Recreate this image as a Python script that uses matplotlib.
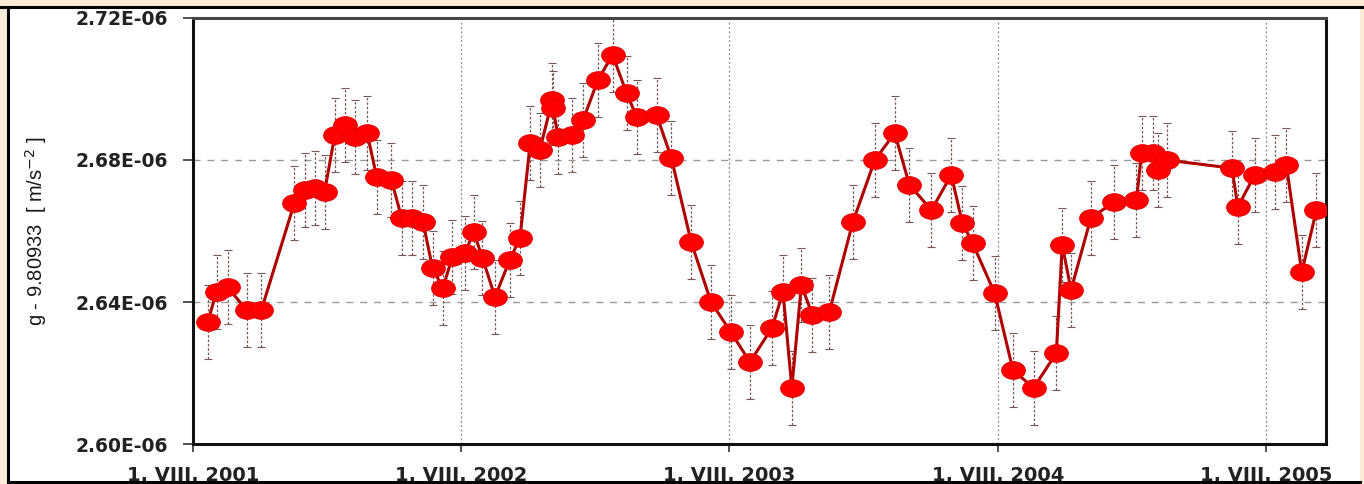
import matplotlib
matplotlib.use("Agg")
import matplotlib.pyplot as plt
import matplotlib.dates as mdates
import matplotlib.transforms as mtransforms
from matplotlib.path import Path
from matplotlib.ticker import FuncFormatter, FixedLocator
from matplotlib.lines import Line2D
from matplotlib.patches import Rectangle
import numpy as np
import datetime as dt

# ---- data ----
dates = [
    "2001-08-21", "2001-09-02", "2001-09-17", "2001-10-13", "2001-11-02",
    "2001-12-17", "2001-12-31", "2002-01-14", "2002-01-27", "2002-02-10",
    "2002-02-24", "2002-03-09", "2002-03-26", "2002-04-08", "2002-04-28",
    "2002-05-12", "2002-05-26", "2002-06-10", "2002-06-23", "2002-07-07",
    "2002-07-20", "2002-08-06", "2002-08-18", "2002-08-30", "2002-09-16",
    "2002-10-06", "2002-10-20", "2002-11-03", "2002-11-16", "2002-12-03",
    "2002-12-04", "2002-12-11", "2002-12-30", "2003-01-14", "2003-02-03",
    "2003-02-23", "2003-03-14", "2003-03-28", "2003-04-24", "2003-05-14",
    "2003-06-10", "2003-07-07", "2003-08-03", "2003-08-29", "2003-09-28",
    "2003-10-13", "2003-10-25", "2003-11-07", "2003-11-22", "2003-12-15",
    "2004-01-16", "2004-02-15", "2004-03-13", "2004-04-02", "2004-05-02",
    "2004-05-29", "2004-06-13", "2004-06-27", "2004-07-27", "2004-08-21",
    "2004-09-18", "2004-10-19", "2004-10-27", "2004-11-08", "2004-12-05",
    "2005-01-06", "2005-02-05", "2005-02-12", "2005-02-27", "2005-03-06",
    "2005-03-18", "2005-06-15", "2005-06-23", "2005-07-16", "2005-08-12",
    "2005-08-28", "2005-09-18", "2005-10-08",
]
g_values = [  # in units of 1e-6 m/s^2
    2.6344, 2.6428, 2.6442, 2.6377, 2.6377,
    2.6679, 2.6715, 2.6721, 2.6710, 2.6870,
    2.6899, 2.6865, 2.6876, 2.6752, 2.6744,
    2.6637, 2.6637, 2.6625, 2.6496, 2.6439,
    2.6527, 2.6538, 2.6597, 2.6524, 2.6414,
    2.6518, 2.6580, 2.6848, 2.6828, 2.6969,
    2.6946, 2.6865, 2.6870, 2.6913, 2.7025,
    2.7096, 2.6989, 2.6921, 2.6927, 2.6806,
    2.6569, 2.6400, 2.6315, 2.6231, 2.6327,
    2.6428, 2.6158, 2.6448, 2.6363, 2.6372,
    2.6625, 2.6800, 2.6876, 2.6730, 2.6659,
    2.6758, 2.6623, 2.6566, 2.6425, 2.6208,
    2.6158, 2.6256, 2.6561, 2.6434, 2.6637,
    2.6682, 2.6687, 2.6820, 2.6820, 2.6772,
    2.6800, 2.6777, 2.6668, 2.6758, 2.6766,
    2.6786, 2.6484, 2.6659,
]
g_error = 0.0105  # 1e-6 m/s^2, error bar half-length

y_ticks = [2.60, 2.64, 2.68, 2.72]
x_ticks = ["2001-08-01", "2002-08-01", "2003-08-01", "2004-08-01", "2005-08-01"]
x_tick_labels = ["1. VIII. 2001", "1. VIII. 2002", "1. VIII. 2003", "1. VIII. 2004", "1. VIII. 2005"]
x_limits = ["2001-08-01", "2005-10-21"]
y_label = "g - 9.80933  [ m/s$^{-2}$ ]"

# ---- figure ----
W, H = 1364, 484
fig = plt.figure(figsize=(W / 100, H / 100), dpi=100)
fig.patch.set_facecolor("#FDEAD7")

# white panel with black frame
fig.patches.append(Rectangle((8 / W, 0), (1360 - 8) / W, 1 - 7 / H,
                             transform=fig.transFigure, facecolor="white",
                             edgecolor="none", zorder=-5))
for (x0, y0, x1, y1) in [(0, 1 - 7 / H, 1, 1 - 7 / H),
                         (8 / W, 0, 8 / W, 1 - 7 / H),
                         (8 / W, 2 / H, 1360 / W, 2 / H)]:
    fig.lines.append(Line2D([x0, x1], [y0, y1], transform=fig.transFigure,
                            color="black", lw=2.2, zorder=-4))

ax = fig.add_axes([193 / W, 1 - 444 / H, (1326 - 193) / W, (444 - 18) / H])
ax.set_facecolor("white")

x = [dt.datetime.strptime(d, "%Y-%m-%d") for d in dates]
y = np.array(g_values) * 1e-6

ell = Path.unit_circle().transformed(mtransforms.Affine2D().scale(1.35, 1.0))

eb = ax.errorbar(x, y, yerr=g_error * 1e-6, fmt="none", ecolor="#7a5555",
                 elinewidth=0.9, capsize=3, capthick=0.8, zorder=2)
for coll in eb.lines[2]:
    coll.set_linestyle((0, (2, 1.5)))

ax.plot(x, y, color="#B00000", lw=2.2, zorder=3)
ax.plot(x, y, linestyle="none", marker=ell, markersize=17,
        markerfacecolor="#FF0000", markeredgecolor="#E80000",
        markeredgewidth=0.8, zorder=4)

# axes limits / ticks
ax.set_ylim(2.60e-6, 2.72e-6)
ax.set_xlim(dt.datetime.strptime(x_limits[0], "%Y-%m-%d"),
            dt.datetime.strptime(x_limits[1], "%Y-%m-%d"))
ax.yaxis.set_major_locator(FixedLocator([v * 1e-6 for v in y_ticks]))
ax.yaxis.set_major_formatter(FuncFormatter(lambda v, p: "{:.2E}".format(v)))
xt = [mdates.date2num(dt.datetime.strptime(d, "%Y-%m-%d")) for d in x_ticks]
ax.set_xticks(xt)
ax.set_xticklabels(x_tick_labels)

for lab in ax.get_yticklabels():
    lab.set_fontfamily("DejaVu Sans")
    lab.set_fontweight("bold")
    lab.set_fontsize(13.5)
    lab.set_color("#222222")
for lab in ax.get_xticklabels():
    lab.set_fontfamily("DejaVu Sans")
    lab.set_fontweight("bold")
    lab.set_fontsize(14)
    lab.set_color("#222222")

ax.tick_params(axis="y", direction="out", length=7, width=1.2, pad=11,
               color="#333333")
ax.tick_params(axis="x", direction="out", length=6, width=1.2, pad=10,
               color="#333333")

# grid lines
for v in y_ticks[1:-1]:
    ax.axhline(v * 1e-6, color="#9a9a9a", lw=1.0, ls=(0, (5, 5)), zorder=1)
for d in xt[1:]:
    ax.axvline(d, color="#8a8a8a", lw=0.9, ls=(0, (1.5, 2)), zorder=1)

for s in ax.spines.values():
    s.set_linewidth(2.2)
    s.set_color("#111111")
ax.spines["top"].set_color("#444444")

fig.text(36 / W, 1 - 231 / H, y_label, rotation=90, ha="center", va="center",
         fontsize=14.5, family="Liberation Sans", color="#1a1a1a")

fig.savefig("out.png", dpi=100, facecolor=fig.get_facecolor())
